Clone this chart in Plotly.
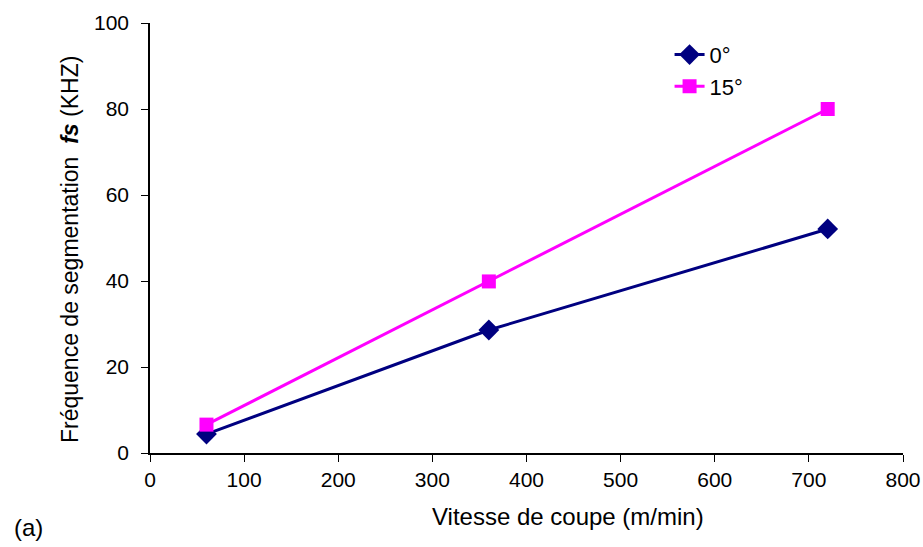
import plotly.graph_objects as go

vitesse = [60, 360, 720]
freq_0 = [4.4, 28.6, 52.1]
freq_15 = [6.6, 39.9, 80.0]

font = "Liberation Sans, Arial, sans-serif"

fig = go.Figure()
fig.add_trace(go.Scatter(
    x=vitesse, y=freq_0, mode="lines+markers", name="0°",
    line=dict(color="#000080", width=3),
    marker=dict(symbol="diamond", size=16, color="#000080"),
))
fig.add_trace(go.Scatter(
    x=vitesse, y=freq_15, mode="lines+markers", name="15°",
    line=dict(color="#FF00FF", width=3),
    marker=dict(symbol="square", size=14, color="#FF00FF"),
))

fig.update_layout(
    width=923, height=547,
    margin=dict(l=150, r=20, t=23, b=94),
    plot_bgcolor="white", paper_bgcolor="white",
    font=dict(family=font, size=21, color="black"),
    showlegend=True,
    legend=dict(x=0.69, y=0.975, xanchor="left", yanchor="top",
                bgcolor="rgba(0,0,0,0)", font=dict(size=22),
                itemwidth=30, tracegroupgap=0),
)
fig.update_xaxes(
    range=[0, 800], dtick=100, showgrid=False, zeroline=False,
    showline=True, linecolor="black", linewidth=1.5,
    ticks="outside", ticklen=7, tickcolor="black", automargin=False,
)
fig.update_yaxes(
    range=[0, 100], dtick=20, showgrid=False, zeroline=False,
    showline=True, linecolor="black", linewidth=1.5,
    ticks="outside", ticklen=7, tickcolor="black", automargin=False,
    ticklabelstandoff=8,
)

# axis titles placed as annotations (the original is not centred on the axes)
fig.add_annotation(text="Vitesse de coupe (m/min)", x=0.5, y=0,
                   xref="paper", yref="paper", xanchor="center", yanchor="middle",
                   xshift=41, yshift=-63, showarrow=False, font=dict(size=24))
fig.add_annotation(text="Fréquence de segmentation  <b><i>fs</i></b> (KHZ)",
                   x=0, y=0.5, xref="paper", yref="paper", textangle=-90,
                   xanchor="center", yanchor="middle", xshift=-80, yshift=-12,
                   showarrow=False, font=dict(size=23))
fig.add_annotation(text="(a)", x=0, y=0, xref="paper", yref="paper",
                   xanchor="left", yanchor="middle", xshift=-138, yshift=-74,
                   showarrow=False, font=dict(size=24))

# drop the default page margin so the figure fills the window exactly
fig.write_html("out.html", config={"displayModeBar": False},
               post_script="document.body.style.margin = '0';")
